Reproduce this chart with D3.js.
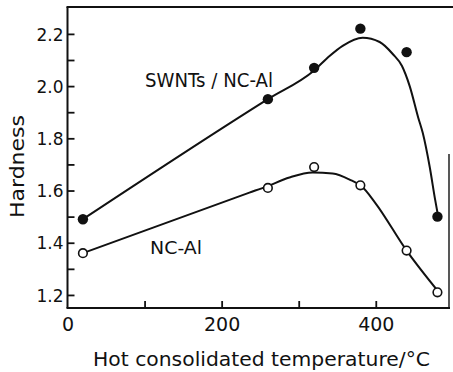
<!DOCTYPE html>
<html>
<head>
<meta charset="utf-8">
<script src="https://cdn.jsdelivr.net/npm/d3@7"></script>
<style>
  html, body { margin: 0; padding: 0; background: #fff; }
  svg { display: block; }
  text { font-family: "DejaVu Sans", sans-serif; fill: #111; }
</style>
</head>
<body>
<svg id="chart" width="453" height="372"></svg>
<script>
// Measured data points
const temps = [20, 260, 320, 380, 440, 480];
const swntHardness = [1.49, 1.95, 2.07, 2.22, 2.13, 1.50];
const ncHardness = [1.36, 1.61, 1.69, 1.62, 1.37, 1.21];

// Hand-drawn fitted curves
const swntFitX = [20, 260, 320, 340, 357, 383, 405, 422, 434, 444, 455, 461, 470, 477, 481];
const swntFitY = [1.49, 1.95, 2.06, 2.115, 2.154, 2.185, 2.169, 2.123, 2.077, 2.0, 1.88, 1.82, 1.69, 1.565, 1.50];
const ncFitX = [20, 236, 258, 288, 318, 344, 366, 382, 399, 440, 482];
const ncFitY = [1.36, 1.592, 1.615, 1.65, 1.669, 1.665, 1.642, 1.615, 1.554, 1.37, 1.21];

const xTicks = [0, 200, 400];
const xMinorTicks = [100, 300];
const yTicks = [1.2, 1.4, 1.6, 1.8, 2.0, 2.2];
const yMinorTicks = [1.3, 1.5, 1.7, 1.9, 2.1];

const xTitle = "Hot consolidated temperature/\u00b0C";
const yTitle = "Hardness";
const labelSWNT = "SWNTs / NC-Al";
const labelNC = "NC-Al";

const svg = d3.select("#chart");
const pLeft = 67.5, pRight = 449, pTop = 7, pBottom = 308;

const x = d3.scaleLinear().domain([0, 495]).range([pLeft, pRight]);
const y = d3.scaleLinear().domain([1.15, 2.303]).range([pBottom, pTop]);

const ink = "#111";

// Frame: left, bottom, top, partial right
svg.append("line").attr("x1", pLeft).attr("x2", pLeft).attr("y1", pTop).attr("y2", pBottom)
  .attr("stroke", ink).attr("stroke-width", 2);
svg.append("line").attr("x1", pLeft - 1).attr("x2", pRight + 1).attr("y1", pBottom).attr("y2", pBottom)
  .attr("stroke", ink).attr("stroke-width", 2);
svg.append("line").attr("x1", pLeft - 1).attr("x2", 453).attr("y1", pTop).attr("y2", pTop)
  .attr("stroke", ink).attr("stroke-width", 1.8);
svg.append("line").attr("x1", pRight).attr("x2", pRight).attr("y1", y(1.74)).attr("y2", pBottom)
  .attr("stroke", ink).attr("stroke-width", 1.4);

// Y axis ticks (inward) and labels
const yAxis = d3.axisLeft(y).tickValues(yTicks).tickSizeInner(-7).tickSizeOuter(0)
  .tickPadding(11).tickFormat(d3.format(".1f"));
const gy = svg.append("g").attr("transform", `translate(${pLeft},0)`).call(yAxis);
gy.select(".domain").remove();
gy.selectAll(".tick line").attr("stroke", ink).attr("stroke-width", 1.8);
gy.selectAll(".tick text").style("font-family", "DejaVu Sans").style("font-size", "17px")
  .attr("fill", ink).attr("x", -4).attr("dy", "0.36em");
const gyMinor = svg.append("g").attr("transform", `translate(${pLeft},0)`)
  .call(d3.axisLeft(y).tickValues(yMinorTicks).tickSizeInner(-7).tickSizeOuter(0).tickFormat(""));
gyMinor.select(".domain").remove();
gyMinor.selectAll(".tick line").attr("stroke", ink).attr("stroke-width", 1.8);

// X axis ticks (inward) and labels
const xAxis = d3.axisBottom(x).tickValues(xTicks).tickSizeInner(0).tickSizeOuter(0).tickPadding(10);
const gx = svg.append("g").attr("transform", `translate(0,${pBottom})`).call(xAxis);
gx.select(".domain").remove();
gx.selectAll(".tick line").remove();
gx.selectAll(".tick text").style("font-family", "DejaVu Sans").style("font-size", "19px").attr("fill", ink);
const gxTicks = svg.append("g").attr("transform", `translate(0,${pBottom})`)
  .call(d3.axisBottom(x).tickValues(xTicks.filter(d => d > 0).concat(xMinorTicks)).tickSizeInner(-7).tickSizeOuter(0).tickFormat(""));
gxTicks.select(".domain").remove();
gxTicks.selectAll(".tick line").attr("stroke", ink).attr("stroke-width", 1.8);

// Axis titles
svg.append("text").attr("x", 93).attr("y", 366)
  .attr("textLength", 337).attr("lengthAdjust", "spacingAndGlyphs")
  .style("font-size", "19px").text(xTitle);
svg.append("text").attr("transform", "translate(24,218) rotate(-90)")
  .attr("textLength", 103).attr("lengthAdjust", "spacingAndGlyphs")
  .style("font-size", "20px").text(yTitle);

// Curves
const line = d3.line().x(d => x(d[0])).y(d => y(d[1])).curve(d3.curveMonotoneX);
svg.append("path").datum(d3.zip(swntFitX, swntFitY)).attr("d", line)
  .attr("fill", "none").attr("stroke", ink).attr("stroke-width", 2);
svg.append("path").datum(d3.zip(ncFitX, ncFitY)).attr("d", line)
  .attr("fill", "none").attr("stroke", ink).attr("stroke-width", 2);

// Markers
svg.append("g").selectAll("circle").data(d3.zip(temps, swntHardness)).join("circle")
  .attr("cx", d => x(d[0])).attr("cy", d => y(d[1])).attr("r", 5.2).attr("fill", ink);
svg.append("g").selectAll("circle").data(d3.zip(temps, ncHardness)).join("circle")
  .attr("cx", d => x(d[0])).attr("cy", d => y(d[1])).attr("r", 4.3)
  .attr("fill", "#fff").attr("stroke", ink).attr("stroke-width", 1.6);

// Series labels
svg.append("text").attr("x", 145).attr("y", 87)
  .attr("textLength", 128).attr("lengthAdjust", "spacingAndGlyphs")
  .style("font-size", "19px").text(labelSWNT);
svg.append("text").attr("x", 150).attr("y", 254)
  .attr("textLength", 52).attr("lengthAdjust", "spacingAndGlyphs")
  .style("font-size", "17px").text(labelNC);
</script>
</body>
</html>
